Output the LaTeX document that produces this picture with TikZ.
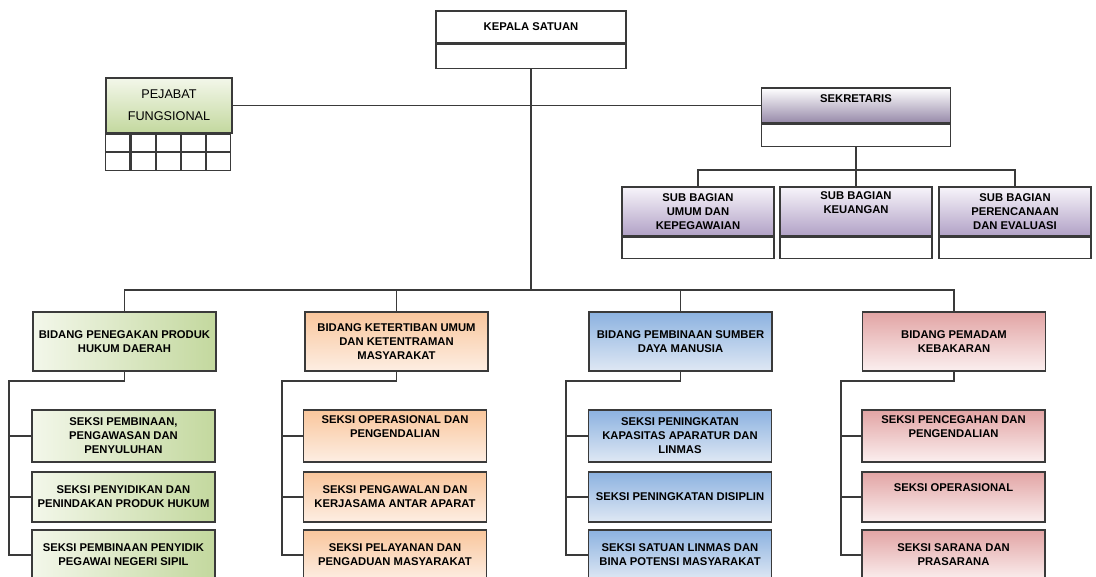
\documentclass[tikz,border=0pt]{standalone}
\usepackage{fontspec}
\setmainfont{Liberation Sans}
\usetikzlibrary{positioning}
\definecolor{lineGray}{HTML}{3A3A3A}
\definecolor{grnL}{HTML}{F3F7EA}
\definecolor{grnR}{HTML}{C3D89E}
\definecolor{peachT}{HTML}{F9C69C}
\definecolor{peachB}{HTML}{FDEEE3}
\definecolor{blueT}{HTML}{8CB2E0}
\definecolor{blueB}{HTML}{DFE8F4}
\definecolor{pinkT}{HTML}{E2A4A4}
\definecolor{pinkB}{HTML}{FBEFEF}
\definecolor{purT}{HTML}{F7F4FA}
\definecolor{purB}{HTML}{B1A1C6}
\tikzset{
    every node/.style={font=\bfseries\fontsize{8}{10}\selectfont, align=center, inner sep=1pt}, % bold small caps text in every box
    box/.style={draw=lineGray, line width=1.1pt}, % frame of each box
    link/.style={draw=lineGray, line width=0.9pt}, % the connecting lines
}
\begin{document}
\begin{tikzpicture}[
        x=0.025cm, y=-0.025cm,
        styleGreen/.style={box, left color=grnL, right color=grnR},
        stylePeach/.style={box, top color=peachT, bottom color=peachB},
        styleBlue/.style={box, top color=blueT, bottom color=blueB},
        stylePink/.style={box, top color=pinkT, bottom color=pinkB},
        stylePurple/.style={box, top color=purT, bottom color=purB},
        styleEmpty/.style={box, fill=white},
        styleCell/.style={box, fill=white, line width=0.8pt, minimum width=0.602cm, minimum height=0.435cm},
        styleBidang/.style={minimum width=4.575cm, minimum height=1.475cm},
        styleSeksi/.style={minimum width=4.575cm, minimum height=1.3cm},
        styleSub/.style={minimum width=3.8cm, minimum height=1.225cm},
    ]
    \clip (0,0) rectangle (1096,577);
    % top of the chart
    \node[styleEmpty, minimum width=4.75cm, minimum height=0.8cm] (kepala) at (531,27) {KEPALA SATUAN};
    \node[styleEmpty, minimum width=4.75cm, minimum height=0.6cm, below=0pt of kepala] (kepalaB) {};
    \node[box, top color=grnL, bottom color=grnR, minimum width=3.15cm, minimum height=1.375cm,
          font=\fontsize{9}{15.5}\selectfont] (pejabat) at (169,105.5) {PEJABAT\\FUNGSIONAL};
    \node[styleCell, below=0pt of pejabat.south west, anchor=north west] (c11) {};
    \node[styleCell, right=0pt of c11] (c12) {};
    \node[styleCell, right=0pt of c12] (c13) {};
    \node[styleCell, right=0pt of c13] (c14) {};
    \node[styleCell, right=0pt of c14] (c15) {};
    \node[styleCell, below=0pt of c11] (c21) {};
    \node[styleCell, below=0pt of c12] (c22) {};
    \node[styleCell, below=0pt of c13] (c23) {};
    \node[styleCell, below=0pt of c14] (c24) {};
    \node[styleCell, below=0pt of c15] (c25) {};
    \node[stylePurple, top color=white, bottom color=purB!85!black, minimum width=4.725cm, minimum height=0.875cm] (sekretaris) at (856,105.5) {SEKRETARIS\\[-3pt]\strut};
    \node[styleEmpty, minimum width=4.725cm, minimum height=0.55cm, below=0pt of sekretaris] (sekretarisB) {};
    % sub bagian
    \node[stylePurple, styleSub] (sub1) at (698,211.5) {SUB BAGIAN\\UMUM DAN\\KEPEGAWAIAN};
    \node[stylePurple, styleSub] (sub2) at (856,211.5) {SUB BAGIAN\\KEUANGAN\\\strut};
    \node[stylePurple, styleSub] (sub3) at (1015,211.5) {SUB BAGIAN\\PERENCANAAN\\DAN EVALUASI};
    \node[styleEmpty, minimum width=3.8cm, minimum height=0.525cm, below=0pt of sub1] (sub1B) {};
    \node[styleEmpty, minimum width=3.8cm, minimum height=0.525cm, below=0pt of sub2] (sub2B) {};
    \node[styleEmpty, minimum width=3.8cm, minimum height=0.525cm, below=0pt of sub3] (sub3B) {};
    % bidang
    \node[styleGreen, styleBidang] (bd1) at (124.5,341.5) {BIDANG PENEGAKAN PRODUK\\HUKUM DAERAH};
    \node[stylePeach, styleBidang] (bd2) at (396.5,341.5) {BIDANG KETERTIBAN UMUM\\DAN KETENTRAMAN\\MASYARAKAT};
    \node[styleBlue, styleBidang] (bd3) at (680.5,341.5) {BIDANG PEMBINAAN SUMBER\\DAYA MANUSIA};
    \node[stylePink, styleBidang] (bd4) at (954,341.5) {BIDANG PEMADAM\\KEBAKARAN};
    % seksi
    \node[styleGreen, styleSeksi] (s11) at (123.5,436) {SEKSI PEMBINAAN,\\PENGAWASAN DAN\\PENYULUHAN};
    \node[styleGreen, styleSeksi, minimum height=1.25cm] (s12) at (123.5,497) {SEKSI PENYIDIKAN DAN\\PENINDAKAN PRODUK HUKUM};
    \node[styleGreen, styleSeksi, minimum height=1.25cm] (s13) at (123.5,555) {SEKSI PEMBINAAN PENYIDIK\\PEGAWAI NEGERI SIPIL};
    \node[stylePeach, styleSeksi] (s21) at (395,436) {SEKSI OPERASIONAL DAN\\PENGENDALIAN\\\strut};
    \node[stylePeach, styleSeksi, minimum height=1.25cm] (s22) at (395,497) {SEKSI PENGAWALAN DAN\\KERJASAMA ANTAR APARAT};
    \node[stylePeach, styleSeksi, minimum height=1.25cm] (s23) at (395,555) {SEKSI PELAYANAN DAN\\PENGADUAN MASYARAKAT};
    \node[styleBlue, styleSeksi] (s31) at (680,436) {SEKSI PENINGKATAN\\KAPASITAS APARATUR DAN\\LINMAS};
    \node[styleBlue, styleSeksi, minimum height=1.25cm] (s32) at (680,497) {SEKSI PENINGKATAN DISIPLIN};
    \node[styleBlue, styleSeksi, minimum height=1.25cm] (s33) at (680,555) {SEKSI SATUAN LINMAS DAN\\BINA POTENSI MASYARAKAT};
    \node[stylePink, styleSeksi] (s41) at (953.5,436) {SEKSI PENCEGAHAN DAN\\PENGENDALIAN\\\strut};
    \node[stylePink, styleSeksi, minimum height=1.25cm] (s42) at (953.5,497) {SEKSI OPERASIONAL\\\strut};
    \node[stylePink, styleSeksi, minimum height=1.25cm] (s43) at (953.5,555) {SEKSI SARANA DAN\\PRASARANA};
    % joints of the lines
    \coordinate (bus) at (531,290);
    \coordinate (subBus) at (856,170);
    \coordinate (sp1) at (9,381);
    \coordinate (sp2) at (282,381);
    \coordinate (sp3) at (566,381);
    \coordinate (sp4) at (841,381);
    \draw[link]
    (pejabat.east) -- (sekretaris.west)
    (kepalaB.south) -- (bus)
    (bd1.north) |- (bus) -| (bd4.north)
    (bus) -| (bd2.north)
    (bus) -| (bd3.north)

    (sekretarisB.south) -- (subBus)
    (sub1.north) |- (subBus) -| (sub3.north)
    (subBus) -- (sub2.north)

    (bd1.south) |- (sp1) |- (s13.west)
    (sp1) |- (s11.west)
    (sp1) |- (s12.west)
    (bd2.south) |- (sp2) |- (s23.west)
    (sp2) |- (s21.west)
    (sp2) |- (s22.west)
    (bd3.south) |- (sp3) |- (s33.west)
    (sp3) |- (s31.west)
    (sp3) |- (s32.west)
    (bd4.south) |- (sp4) |- (s43.west)
    (sp4) |- (s41.west)
    (sp4) |- (s42.west);
\end{tikzpicture}
\end{document}
